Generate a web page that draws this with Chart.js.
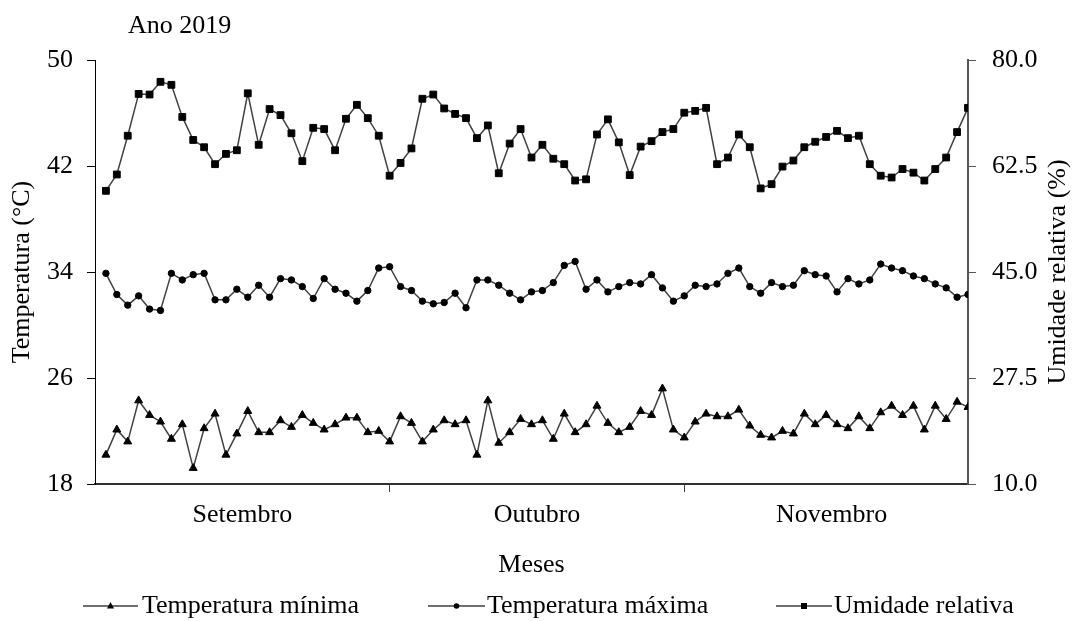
<!DOCTYPE html>
<html>
<head>
<meta charset="utf-8">
<script src="https://cdn.jsdelivr.net/npm/chart.js@4.4.1/dist/chart.umd.min.js"></script>
<style>
  body { margin: 0; background: #fff; }
  #box { width: 1077px; height: 621px; position: relative; }
</style>
</head>
<body>
<div id="box"><canvas id="grafico"></canvas></div>
<script>
// Dados diários (set-nov 2019)
const meses = ['Setembro', 'Outubro', 'Novembro'];
const posMeses = [13.5, 40.5, 67.5];
const divisoesMeses = [27, 54];

const tempMinima = [
    20.2, 22.1, 21.2, 24.3, 23.2, 22.7, 21.4, 22.5, 19.2, 22.2,
    23.3, 20.2, 21.8, 23.5, 21.9, 21.9, 22.8, 22.3, 23.2, 22.6,
    22.1, 22.5, 23.0, 23.0, 21.9, 22.0, 21.2, 23.1, 22.6, 21.2,
    22.1, 22.8, 22.5, 22.8, 20.2, 24.3, 21.1, 21.9, 22.9, 22.5,
    22.8, 21.4, 23.3, 21.9, 22.5, 23.9, 22.6, 21.9, 22.3, 23.5,
    23.2, 25.2, 22.1, 21.5, 22.7, 23.3, 23.1, 23.1, 23.6, 22.4,
    21.7, 21.5, 22.0, 21.8, 23.3, 22.5, 23.2, 22.5, 22.2, 23.1,
    22.2, 23.4, 23.9, 23.2, 23.9, 22.1, 23.9, 22.9, 24.2, 23.8
];

const tempMaxima = [
    33.9, 32.3, 31.5, 32.2, 31.2, 31.1, 33.9, 33.4, 33.8, 33.9,
    31.9, 31.9, 32.7, 32.1, 33.0, 32.1, 33.5, 33.4, 32.9, 32.0,
    33.5, 32.7, 32.4, 31.8, 32.6, 34.3, 34.4, 32.9, 32.6, 31.8,
    31.6, 31.7, 32.4, 31.3, 33.4, 33.4, 33.0, 32.4, 31.9, 32.5,
    32.6, 33.2, 34.5, 34.8, 32.7, 33.4, 32.5, 32.9, 33.2, 33.1,
    33.8, 32.8, 31.8, 32.2, 33.0, 32.9, 33.1, 33.9, 34.3, 32.9,
    32.4, 33.2, 32.9, 33.0, 34.1, 33.8, 33.7, 32.5, 33.5, 33.1,
    33.4, 34.6, 34.3, 34.1, 33.7, 33.5, 33.1, 32.8, 32.1, 32.3
];

const umidade = [
    58.4, 61.1, 67.5, 74.4, 74.3, 76.4, 75.9, 70.6, 66.8, 65.6,
    62.8, 64.5, 65.1, 74.5, 66.0, 71.9, 70.9, 67.9, 63.3, 68.8,
    68.6, 65.1, 70.3, 72.6, 70.4, 67.5, 60.9, 63.0, 65.4, 73.6,
    74.3, 72.0, 71.1, 70.4, 67.1, 69.2, 61.3, 66.2, 68.6, 63.9,
    66.0, 63.7, 62.8, 60.1, 60.3, 67.7, 70.2, 66.4, 61.0, 65.7,
    66.6, 68.1, 68.6, 71.3, 71.6, 72.1, 62.8, 63.9, 67.7, 65.6,
    58.8, 59.5, 62.4, 63.4, 65.6, 66.5, 67.3, 68.3, 67.1, 67.5,
    62.8, 60.9, 60.6, 62.0, 61.4, 60.1, 62.0, 63.9, 68.1, 72.1
];

const ticksTemp = [18, 26, 34, 42, 50];
const ticksUmid = [10, 27.5, 45, 62.5, 80];

const fonte = "'Liberation Serif', 'Times New Roman', serif";
const corLinha = '#404040';

function pontos(valores) {
    return valores.map((v, i) => ({ x: i + 1, y: v }));
}

// desenha título, título do eixo direito e legenda
const extras = {
    id: 'extras',
    afterDraw(chart) {
        const ctx = chart.ctx;
        const area = chart.chartArea;
        ctx.save();
        ctx.fillStyle = '#000';
        ctx.font = '26px ' + fonte;
        ctx.textAlign = 'left';
        ctx.textBaseline = 'alphabetic';
        ctx.fillText('Ano 2019', 128, 33);

        ctx.save();
        ctx.translate(1058, (area.top + area.bottom) / 2);
        ctx.rotate(-Math.PI / 2);
        ctx.textAlign = 'center';
        ctx.textBaseline = 'middle';
        ctx.fillText('Umidade relativa (%)', 0, 0);
        ctx.restore();

        const itens = [
            { x1: 83, x2: 138, tx: 142 },
            { x1: 428, x2: 485, tx: 487 },
            { x1: 776, x2: 832, tx: 834 }
        ];
        const y = 606;
        chart.data.datasets.forEach((ds, i) => {
            const it = itens[i];
            ctx.strokeStyle = corLinha;
            ctx.lineWidth = 1.5;
            ctx.beginPath();
            ctx.moveTo(it.x1, y);
            ctx.lineTo(it.x2, y);
            ctx.stroke();
            const cx = (it.x1 + it.x2) / 2;
            ctx.fillStyle = '#000';
            ctx.beginPath();
            if (ds.pointStyle === 'triangle') {
                ctx.moveTo(cx, y - 4);
                ctx.lineTo(cx + 3.5, y + 2.5);
                ctx.lineTo(cx - 3.5, y + 2.5);
                ctx.closePath();
            } else if (ds.pointStyle === 'rect') {
                ctx.rect(cx - 3, y - 3, 6, 6);
            } else {
                ctx.arc(cx, y, 2.8, 0, Math.PI * 2);
            }
            ctx.fill();
            ctx.textAlign = 'left';
            ctx.textBaseline = 'middle';
            ctx.fillText(ds.label, it.tx, y);
        });
        ctx.restore();
    }
};

new Chart(document.getElementById('grafico'), {
    type: 'line',
    data: {
        datasets: [{
            label: 'Temperatura mínima',
            data: pontos(tempMinima),
            yAxisID: 'y',
            borderColor: corLinha,
            borderWidth: 1.5,
            pointStyle: 'triangle',
            pointRadius: 4.6,
            pointBackgroundColor: '#000',
            pointBorderColor: '#000',
            pointBorderWidth: 1
        }, {
            label: 'Temperatura máxima',
            data: pontos(tempMaxima),
            yAxisID: 'y',
            borderColor: corLinha,
            borderWidth: 1.5,
            pointStyle: 'circle',
            pointRadius: 3.2,
            pointBackgroundColor: '#000',
            pointBorderColor: '#000',
            pointBorderWidth: 1
        }, {
            label: 'Umidade relativa',
            data: pontos(umidade),
            yAxisID: 'y2',
            borderColor: corLinha,
            borderWidth: 1.5,
            pointStyle: 'rect',
            pointRadius: 4.8,
            pointBackgroundColor: '#000',
            pointBorderColor: '#000',
            pointBorderWidth: 1
        }]
    },
    options: {
        responsive: true,
        maintainAspectRatio: false,
        animation: false,
        events: [],
        layout: { padding: { top: 60, bottom: 38, left: 0, right: 0 } },
        plugins: {
            legend: { display: false },
            title: { display: false },
            tooltip: { enabled: false }
        },
        scales: {
            x: {
                type: 'linear',
                min: 0,
                max: 80,
                afterBuildTicks(scale) {
                    const vals = [0].concat(posMeses, divisoesMeses, [80]).sort((a, b) => a - b);
                    scale.ticks = vals.map(v => ({ value: v }));
                },
                afterFit(scale) { scale.height = 99; },
                ticks: {
                    autoSkip: false,
                    maxRotation: 0,
                    padding: 8,
                    color: '#000',
                    font: { family: fonte, size: 26 },
                    callback(value) {
                        const k = posMeses.indexOf(value);
                        return k >= 0 ? meses[k] : '';
                    }
                },
                grid: {
                    drawOnChartArea: false,
                    tickLength: 8,
                    tickColor: (c) => (c.tick && divisoesMeses.includes(c.tick.value)) ? '#404040' : 'rgba(0,0,0,0)'
                },
                border: { display: true, color: '#303030', width: 2 },
                title: {
                    display: true,
                    text: 'Meses',
                    color: '#000',
                    font: { family: fonte, size: 26 },
                    padding: { top: 0, bottom: 2 }
                }
            },
            y: {
                position: 'left',
                min: 18,
                max: 50,
                afterBuildTicks(scale) { scale.ticks = ticksTemp.map(v => ({ value: v })); },
                afterFit(scale) { scale.width = 95; },
                ticks: {
                    padding: 14,
                    color: '#000',
                    font: { family: fonte, size: 26 }
                },
                grid: { drawOnChartArea: false, tickLength: 8, tickColor: '#000' },
                border: { display: true, color: '#000', width: 1 },
                title: {
                    display: true,
                    text: 'Temperatura (°C)',
                    color: '#000',
                    font: { family: fonte, size: 26 },
                    padding: { top: 7, bottom: 0 }
                }
            },
            y2: {
                position: 'right',
                min: 10,
                max: 80,
                afterBuildTicks(scale) { scale.ticks = ticksUmid.map(v => ({ value: v })); },
                afterFit(scale) { scale.width = 109; },
                ticks: {
                    padding: 16,
                    color: '#000',
                    font: { family: fonte, size: 26 },
                    callback: (v) => v.toFixed(1)
                },
                grid: { drawOnChartArea: false, tickLength: 8, tickColor: '#555' },
                border: { display: true, color: '#555', width: 2 }
            }
        }
    },
    plugins: [extras]
});
</script>
</body>
</html>
